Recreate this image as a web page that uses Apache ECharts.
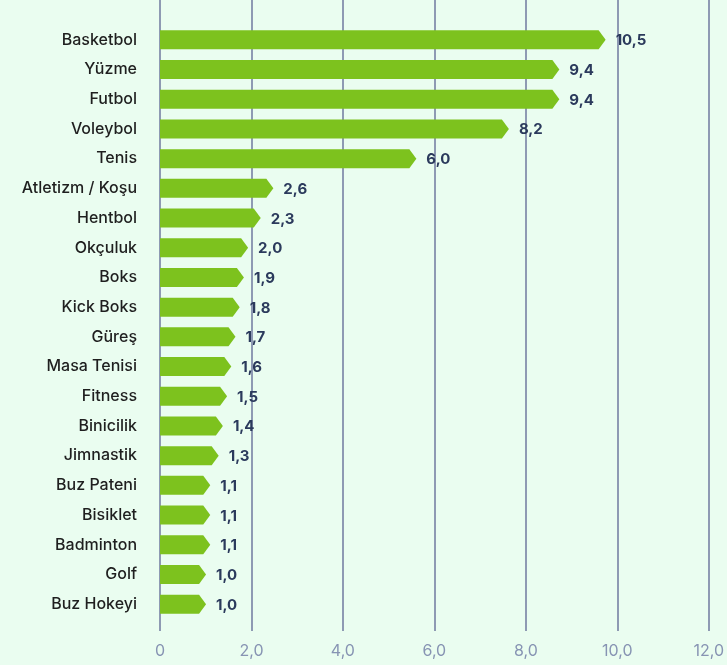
<!DOCTYPE html>
<html>
<head>
<meta charset="utf-8">
<script src="https://cdn.jsdelivr.net/npm/echarts@6/dist/echarts.min.js"></script>
<style>
  html, body { margin: 0; padding: 0; background: #eafdf0; }
  #chart { width: 727px; height: 665px; }
</style>
</head>
<body>
<div id="chart"></div>
<script>
const categories = ['Basketbol', 'Yüzme', 'Futbol', 'Voleybol', 'Tenis', 'Atletizm / Koşu', 'Hentbol', 'Okçuluk', 'Boks', 'Kick Boks', 'Güreş', 'Masa Tenisi', 'Fitness', 'Binicilik', 'Jimnastik', 'Buz Pateni', 'Bisiklet', 'Badminton', 'Golf', 'Buz Hokeyi']
const values = [10.5, 9.4, 9.4, 8.2, 6.0, 2.6, 2.3, 2.0, 1.9, 1.8, 1.7, 1.6, 1.5, 1.4, 1.3, 1.1, 1.1, 1.1, 1.0, 1.0]
const axisTicks = [0, 2, 4, 6, 8, 10, 12]

const FONT = 'Inter, "Noto Sans", sans-serif'
const fmt = v => v === 0 ? '0' : v.toFixed(1).replace('.', ',')

function renderArrow(params, api) {
  const idx = api.value(0)
  const val = api.value(1)
  const start = api.coord([0, idx])
  const end = api.coord([val, idx])
  const h = api.size([0, 1])[1] * 0.64
  const y = end[1]
  const x0 = start[0]
  const x1 = end[0] - 3
  const tip = end[0] + 4
  return {
    type: 'group',
    children: [
      {
        type: 'polygon',
        shape: { points: [[x0, y - h / 2], [x1, y - h / 2], [tip, y], [x1, y + h / 2], [x0, y + h / 2]] },
        style: { fill: '#7dc21e' }
      },
      {
        type: 'text',
        style: {
          x: tip + 10, y: y + 1,
          text: fmt(val),
          fill: '#2b3a5c',
          font: 'bold 15px ' + FONT,
          verticalAlign: 'middle',
          align: 'left'
        }
      }
    ]
  }
}

function draw() {
  const chart = echarts.init(document.getElementById('chart'))
  chart.setOption({
    backgroundColor: '#eafdf0',
    animation: false,
    grid: [
      { left: 160, right: 16, top: 0, bottom: 34 },
      { left: 160, right: 16, top: 25, bottom: 46 }
    ],
    xAxis: [
      {
        gridIndex: 0,
        type: 'value',
        min: axisTicks[0],
        max: axisTicks[axisTicks.length - 1],
        interval: 2,
        axisLine: { show: false },
        axisTick: { show: false },
        splitLine: { show: true, lineStyle: { color: '#8e9ab3', width: 2 } },
        axisLabel: { color: '#8794b3', fontSize: 16, fontFamily: FONT, margin: 12, formatter: fmt }
      },
      {
        gridIndex: 1,
        type: 'value',
        min: 0,
        max: 13.1,
        show: false
      }
    ],
    yAxis: [
      { gridIndex: 0, type: 'value', show: false },
      {
        gridIndex: 1,
        type: 'category',
        data: categories,
        inverse: true,
        axisLine: { show: false },
        axisTick: { show: false },
        axisLabel: { color: '#1f1f1f', fontSize: 16, fontWeight: 500, fontFamily: FONT, margin: 23 }
      }
    ],
    series: [
      {
        type: 'custom',
        xAxisIndex: 1,
        yAxisIndex: 1,
        renderItem: renderArrow,
        encode: { x: 1, y: 0 },
        data: values.map((v, i) => [i, v])
      }
    ]
  })
}

Promise.all([
  document.fonts.load('16px Inter'),
  document.fonts.load('500 16px Inter'),
  document.fonts.load('bold 15px Inter')
]).then(draw, draw)
</script>
</body>
</html>
